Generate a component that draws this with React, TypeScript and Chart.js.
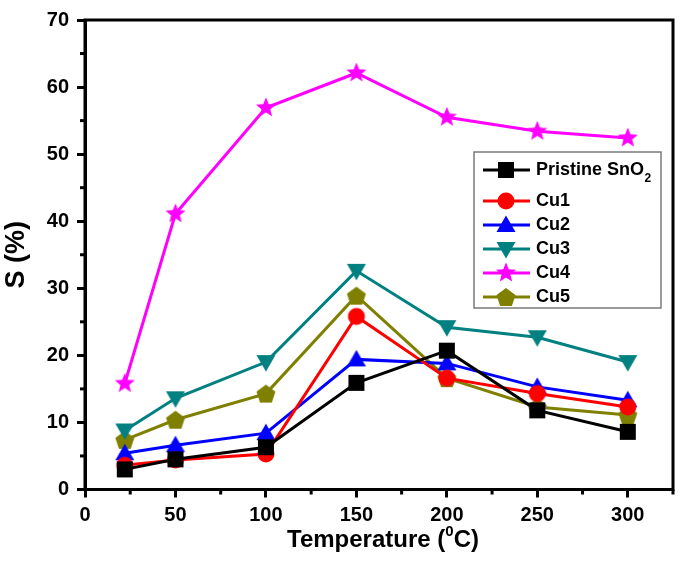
import React, { useEffect, useRef } from "react";
import { Chart, registerables } from "chart.js";

Chart.register(...registerables);

// ---------- data ----------
const temperatures = [22, 50, 100, 150, 200, 250, 300];
const pristine = [3.0, 4.5, 6.3, 15.9, 20.7, 11.8, 8.6];
const cu1 = [3.6, 4.4, 5.3, 25.8, 16.6, 14.3, 12.3];
const cu2 = [5.4, 6.6, 8.4, 19.4, 18.8, 15.3, 13.3];
const cu3 = [8.8, 13.6, 19.0, 32.6, 24.2, 22.7, 19.0];
const cu4 = [15.8, 41.1, 56.9, 62.1, 55.5, 53.4, 52.4];
const cu5 = [7.4, 10.4, 14.3, 28.9, 16.6, 12.3, 11.1];

const seriesLabels = ["Pristine SnO₂", "Cu1", "Cu2", "Cu3", "Cu4", "Cu5"];
const seriesValues = [pristine, cu1, cu2, cu3, cu4, cu5];
const seriesColors = ["#000000", "#ff0000", "#0000ff", "#008080", "#ff00ff", "#808000"];
const seriesMarkers = ["square", "circle", "triangle", "triangleDown", "star", "pentagon"];

const xTicks = [0, 50, 100, 150, 200, 250, 300];
const yTicks = [0, 10, 20, 30, 40, 50, 60, 70];

const FONT = '"Liberation Sans", Arial, Helvetica, sans-serif';

// ---------- marker images ----------
function makeMarker(kind: string, color: string): HTMLCanvasElement {
  const S = 24;
  const c = document.createElement("canvas");
  c.width = S;
  c.height = S;
  const g = c.getContext("2d")!;
  const cx = S / 2;
  const cy = S / 2;
  g.fillStyle = color;
  g.beginPath();
  if (kind === "square") {
    g.rect(cx - 8, cy - 8, 16, 16);
  } else if (kind === "circle") {
    g.arc(cx, cy, 8.5, 0, Math.PI * 2);
  } else if (kind === "triangle") {
    g.moveTo(cx, cy - 9.5);
    g.lineTo(cx + 9.5, cy + 7);
    g.lineTo(cx - 9.5, cy + 7);
    g.closePath();
  } else if (kind === "triangleDown") {
    g.moveTo(cx, cy + 9.5);
    g.lineTo(cx + 9.5, cy - 7);
    g.lineTo(cx - 9.5, cy - 7);
    g.closePath();
  } else if (kind === "star") {
    const R = 10.5;
    const r = 4.6;
    for (let i = 0; i < 10; i++) {
      const a = -Math.PI / 2 + (i * Math.PI) / 5;
      const rr = i % 2 === 0 ? R : r;
      const px = cx + rr * Math.cos(a);
      const py = cy + rr * Math.sin(a);
      if (i === 0) g.moveTo(px, py);
      else g.lineTo(px, py);
    }
    g.closePath();
  } else if (kind === "pentagon") {
    const R = 10;
    for (let i = 0; i < 5; i++) {
      const a = -Math.PI / 2 + (i * 2 * Math.PI) / 5;
      const px = cx + R * Math.cos(a);
      const py = cy + 1 + R * Math.sin(a);
      if (i === 0) g.moveTo(px, py);
      else g.lineTo(px, py);
    }
    g.closePath();
  }
  g.fill();
  return c;
}

// ---------- plugins ----------
const framePlugin = {
  id: "frameAndMinor",
  afterDatasetsDraw(chart: any) {
    const { ctx, chartArea, scales } = chart;
    ctx.save();
    ctx.strokeStyle = "#000";
    ctx.lineWidth = 3;
    ctx.strokeRect(chartArea.left, chartArea.top, chartArea.right - chartArea.left, chartArea.bottom - chartArea.top);
    ctx.lineWidth = 3;
    // minor x ticks
    for (let v = 25; v <= 325; v += 50) {
      const x = scales.x.getPixelForValue(v);
      ctx.beginPath();
      ctx.moveTo(x, chartArea.bottom);
      ctx.lineTo(x, chartArea.bottom + 5);
      ctx.stroke();
    }
    for (let v = 5; v <= 65; v += 10) {
      const y = scales.y.getPixelForValue(v);
      ctx.beginPath();
      ctx.moveTo(chartArea.left, y);
      ctx.lineTo(chartArea.left - 5, y);
      ctx.stroke();
    }
    // x title with superscript
    ctx.fillStyle = "#000";
    ctx.textBaseline = "middle";
    ctx.textAlign = "left";
    const p1 = "Temperature (";
    const sup = "0";
    const p2 = "C)";
    ctx.font = `bold 24px ${FONT}`;
    const w1 = ctx.measureText(p1).width;
    const w3 = ctx.measureText(p2).width;
    ctx.font = `bold 15px ${FONT}`;
    const w2 = ctx.measureText(sup).width;
    const total = w1 + w2 + w3;
    const cx = (chartArea.left + chartArea.right) / 2 + 4;
    let x = cx - total / 2;
    const ty = 540;
    ctx.font = `bold 24px ${FONT}`;
    ctx.fillText(p1, x, ty);
    x += w1;
    ctx.font = `bold 15px ${FONT}`;
    ctx.fillText(sup, x, ty - 8);
    x += w2;
    ctx.font = `bold 24px ${FONT}`;
    ctx.fillText(p2, x, ty);
    ctx.restore();
  },
};

const legendPlugin = {
  id: "boxLegend",
  afterDatasetsDraw(chart: any) {
    const { ctx } = chart;
    const bx = 474;
    const by = 152;
    const bw = 187;
    const bh = 156;
    const rows = [170, 201, 225, 249, 273, 297];
    ctx.save();
    ctx.fillStyle = "#ffffff";
    ctx.fillRect(bx, by, bw, bh);
    ctx.strokeStyle = "#7a7a7a";
    ctx.lineWidth = 1.5;
    ctx.strokeRect(bx, by, bw, bh);
    chart.data.datasets.forEach((ds: any, i: number) => {
      const y = rows[i];
      ctx.strokeStyle = ds.borderColor;
      ctx.lineWidth = 3;
      ctx.beginPath();
      ctx.moveTo(bx + 9, y);
      ctx.lineTo(bx + 56, y);
      ctx.stroke();
      const img = ds.pointStyle as HTMLCanvasElement;
      ctx.drawImage(img, bx + 32 - img.width / 2, y - img.height / 2);
      ctx.fillStyle = "#000";
      ctx.textBaseline = "middle";
      ctx.textAlign = "left";
      ctx.font = `bold 18px ${FONT}`;
      const label: string = ds.label;
      const tx = bx + 62;
      if (label.endsWith("₂")) {
        const main = label.slice(0, -1);
        ctx.fillText(main, tx, y);
        const w = ctx.measureText(main).width;
        ctx.font = `bold 12px ${FONT}`;
        ctx.fillText("2", tx + w + 0.5, y + 9);
      } else {
        ctx.fillText(label, tx, y);
      }
    });
    ctx.restore();
  },
};

export default function App() {
  const ref = useRef<HTMLCanvasElement | null>(null);

  useEffect(() => {
    if (!ref.current) return;
    const datasets = seriesLabels.map((label, i) => ({
      label,
      data: temperatures.map((t, j) => ({ x: t, y: seriesValues[i][j] })),
      borderColor: seriesColors[i],
      backgroundColor: seriesColors[i],
      borderWidth: 3,
      pointStyle: makeMarker(seriesMarkers[i], seriesColors[i]),
      pointRadius: 9,
      tension: 0,
      clip: false as any,
    }));

    const chart = new Chart(ref.current, {
      type: "line",
      data: { datasets },
      options: {
        responsive: false,
        animation: false,
        layout: { padding: { top: 18, right: 11, left: 0, bottom: 0 } },
        plugins: {
          legend: { display: false },
          tooltip: { enabled: false },
        },
        scales: {
          x: {
            type: "linear",
            min: 0,
            max: 325,
            afterFit: (s: any) => {
              s.height = 72.5;
            },
            afterBuildTicks: (s: any) => {
              s.ticks = xTicks.map((v) => ({ value: v }));
            },
            ticks: {
              includeBounds: false,
              padding: 6,
              color: "#000",
              font: { family: FONT, size: 20, weight: "bold" },
              maxRotation: 0,
            },
            grid: {
              display: true,
              drawOnChartArea: false,
              drawTicks: true,
              tickLength: 8,
              tickWidth: 3,
              tickColor: "#000",
            },
            border: { display: true, color: "#000", width: 3 },
            title: { display: false },
          },
          y: {
            type: "linear",
            min: 0,
            max: 70,
            afterFit: (s: any) => {
              s.width = 85;
            },
            afterBuildTicks: (s: any) => {
              s.ticks = yTicks.map((v) => ({ value: v }));
            },
            ticks: {
              padding: 8,
              color: "#000",
              font: { family: FONT, size: 20, weight: "bold" },
            },
            grid: {
              display: true,
              drawOnChartArea: false,
              drawTicks: true,
              tickLength: 8,
              tickWidth: 3,
              tickColor: "#000",
            },
            border: { display: true, color: "#000", width: 3 },
            title: {
              display: true,
              text: "S (%)",
              color: "#000",
              font: { family: FONT, size: 27, weight: "bold" },
              padding: { top: 0, bottom: 0 },
            },
          },
        },
      },
      plugins: [framePlugin, legendPlugin],
    });
    return () => chart.destroy();
  }, []);

  return (
    <div style={{ position: "fixed", left: 0, top: 0, width: 685, height: 562, background: "#fff" }}>
      <canvas ref={ref} width={685} height={562} style={{ display: "block", width: 685, height: 562 }} />
    </div>
  );
}
